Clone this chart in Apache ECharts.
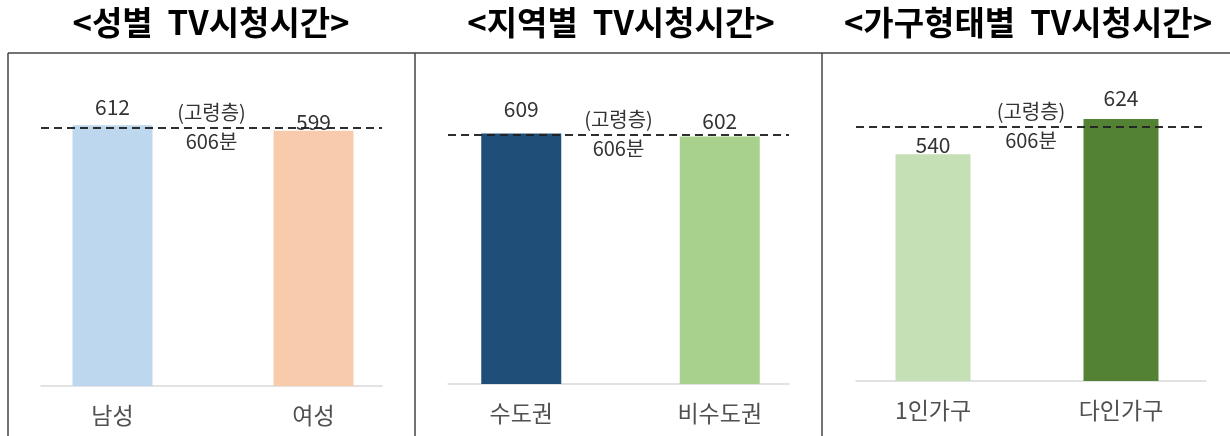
<!DOCTYPE html>
<html>
<head>
<meta charset="utf-8">
<title>TV시청시간</title>
<script src="https://cdn.jsdelivr.net/npm/echarts@6/dist/echarts.min.js"></script>
<style>
  html, body { margin: 0; background: #fff; }
  #chart { width: 1230px; height: 436px; }
</style>
</head>
<body>
<div id="chart"></div>
<script>
const titles = ['<성별  TV시청시간>', '<지역별  TV시청시간>', '<가구형태별  TV시청시간>']
const genderCategories = ['남성', '여성']
const genderValues = [612, 599]
const regionCategories = ['수도권', '비수도권']
const regionValues = [609, 602]
const householdCategories = ['1인가구', '다인가구']
const householdValues = [540, 624]
// 고령층 평균 (분)
const elderlyAverage = 606

const font = 'Noto Sans CJK KR'

// 패널별 배치
const panels = [
  {
    categories: genderCategories, values: genderValues,
    colors: ['#BDD7EE', '#F8CBAD'], labelGap: [8, -2], barWidth: 80, titleX: 206,
    top: 45, height: 341, barLeft: 12, barWidthPx: 402, lineLeft: 41, lineWidth: 341
  },
  {
    categories: regionCategories, values: regionValues,
    colors: ['#1F4E79', '#A9D18E'], labelGap: [14, 5], barWidth: 80, titleX: 616,
    top: 55, height: 329, barLeft: 422, barWidthPx: 397, lineLeft: 448, lineWidth: 341
  },
  {
    categories: householdCategories, values: householdValues,
    colors: ['#C5E0B4', '#548235'], labelGap: [-1, 10], barWidth: 75, titleX: 1023,
    top: 45, height: 336, barLeft: 839, barWidthPx: 376, lineLeft: 856, lineWidth: 350
  }
]

const grid = []
const xAxis = []
const yAxis = []
const series = []

panels.forEach((p, i) => {
  const a = i * 2
  const b = i * 2 + 1
  grid.push({ left: p.barLeft, width: p.barWidthPx, top: p.top, height: p.height })
  grid.push({ left: p.lineLeft, width: p.lineWidth, top: p.top, height: p.height })

  xAxis.push({
    type: 'category', gridIndex: a, data: p.categories,
    axisLine: { show: false }, axisTick: { show: false },
    axisLabel: { color: '#505050', fontSize: 23, margin: 18, fontFamily: font }
  })
  xAxis.push({
    type: 'category', gridIndex: b, data: p.categories,
    axisLine: { lineStyle: { color: '#D9D9D9', width: 1.5 } },
    axisTick: { show: false }, axisLabel: { show: false }
  })
  yAxis.push({ type: 'value', gridIndex: a, min: 0, max: 800, show: false })
  yAxis.push({ type: 'value', gridIndex: b, min: 0, max: 800, show: false })

  series.push({
    type: 'bar', xAxisIndex: a, yAxisIndex: a, barWidth: p.barWidth,
    data: p.values.map((v, j) => ({
      value: v,
      itemStyle: { color: p.colors[j] },
      label: { distance: p.labelGap[j] }
    })),
    label: { show: true, position: 'top', color: '#333', fontSize: 21, fontFamily: font }
  })

  // 고령층 기준선
  const refLabel = { color: '#333', fontSize: 20, fontFamily: font }
  series.push({
    type: 'line', xAxisIndex: b, yAxisIndex: b, data: [], silent: true,
    markLine: {
      silent: true, symbol: 'none',
      lineStyle: { color: '#222', width: 1.5, type: [8, 5] },
      data: [
        { yAxis: elderlyAverage, label: { ...refLabel, position: 'insideMiddleTop', distance: 5, formatter: '(고령층)' } },
        { yAxis: elderlyAverage, label: { ...refLabel, position: 'insideMiddleBottom', distance: 4, formatter: elderlyAverage + '분' } }
      ]
    }
  })
})

const frame = { stroke: '#444', lineWidth: 1.5 }
const graphic = [
  { type: 'line', shape: { x1: 8, y1: 53, x2: 1230, y2: 53 }, style: frame },
  { type: 'line', shape: { x1: 8, y1: 53, x2: 8, y2: 436 }, style: frame },
  { type: 'line', shape: { x1: 415, y1: 53, x2: 415, y2: 436 }, style: frame },
  { type: 'line', shape: { x1: 822, y1: 53, x2: 822, y2: 436 }, style: frame }
]

const chart = echarts.init(document.getElementById('chart'))
chart.setOption({
  animation: false,
  title: titles.map((t, i) => ({
    text: t, left: panels[i].titleX, top: 1, textAlign: 'center',
    textStyle: { fontSize: 33, fontWeight: 'bold', color: '#000', fontFamily: font }
  })),
  grid,
  xAxis,
  yAxis,
  series,
  graphic
})
</script>
</body>
</html>
